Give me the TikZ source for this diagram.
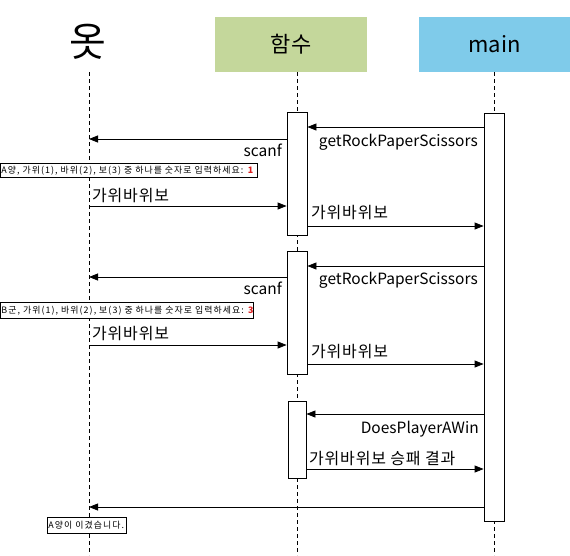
\documentclass[tikz,border=0pt]{standalone}
\usepackage{fontspec}
\setmainfont{Noto Sans CJK KR}
\newfontfamily\notefont[LetterSpace=12,WordSpace=1.8]{Noto Sans CJK KR}
\newfontfamily\korlbl[LetterSpace=5]{Noto Sans CJK KR}
\usetikzlibrary{arrows.meta,calc}
\definecolor{hgreen}{RGB}{196,215,155}
\definecolor{hblue}{RGB}{127,203,234}
\definecolor{nred}{RGB}{220,30,30}
\begin{document}
\begin{tikzpicture}[x=1pt,y=-1pt,
  lifeline/.style={draw=black,line width=0.8pt,dash pattern=on 4pt off 3pt},
  header/.style={draw=none,minimum width=152pt,minimum height=55pt,inner sep=0pt,font=\fontsize{22}{24}\selectfont},
  act/.style={draw=black,fill=white,line width=0.8pt,minimum width=20pt,inner sep=0pt},
  msg/.style={draw=black,line width=0.8pt,-{Triangle[length=9pt,width=7pt]}},
  lbl/.style={inner sep=0pt,font=\fontsize{15.5}{18}\selectfont},
  klbl/.style={inner sep=0pt,font=\korlbl\fontsize{16}{18}\selectfont},
  note/.style={draw=black,fill=white,line width=0.8pt,inner sep=0pt,font=\notefont\fontsize{8.9}{9}\selectfont}
]
\useasboundingbox (0,0) rectangle (570,555);
\fill[white] (0,0) rectangle (570,555);
% headers
\node[inner sep=0pt,font=\fontsize{40}{42}\selectfont] (person) at (88,42) {옷};
\node[header,fill=hgreen] (func) at (291,44.5) {함수};
\node[header,fill=hblue,minimum width=151pt] (main) at (494.5,44.5) {main};
% lifeline coordinates
\coordinate (pL) at (89,72);
\coordinate (fL) at (297,72);
\coordinate (mL) at (494,72);
\draw[lifeline] (pL) -- (89,555);
\draw[lifeline] (fL) -- (297,555);
\draw[lifeline] (mL) -- (494,555);
% activations
\node[act,minimum height=408pt] (m1) at (494,317) {};
\node[act,minimum height=123pt] (a1) at (297,173.5) {};
\node[act,minimum height=123pt] (a2) at (297,312.5) {};
\node[act,minimum height=77pt,minimum width=18pt] (a3) at (297,439.5) {};
% group 1
\draw[msg] (m1.west |- 0,127) -- (a1.east |- 0,127);
\node[lbl,anchor=base east] (l1) at (478,146) {getRockPaperScissors};
\draw[msg] (a1.west |- 0,139) -- (pL |- 0,139);
\node[lbl,anchor=base east] (l2) at (282,156) {scanf};
\node[note,anchor=north west,minimum height=14pt,text width=257pt,align=left] (n1) at (0,163) {\mbox{\hspace{1pt}A양, 가위(1), 바위(2), 보(3) 중 하나를 숫자로 입력하세요: \textcolor{nred}{\textbf{1}}}};
\draw[msg] (pL |- 0,206) -- (a1.west |- 0,206);
\node[klbl,anchor=base west] (l3) at (92,201) {가위바위보};
\draw[msg] (a1.east |- 0,226) -- (m1.west |- 0,226);
\node[klbl,anchor=base west] (l4) at (311,218) {가위바위보};
% group 2
\draw[msg] (m1.west |- 0,266) -- (a2.east |- 0,266);
\node[lbl,anchor=base east] (l5) at (478,284) {getRockPaperScissors};
\draw[msg] (a2.west |- 0,277) -- (pL |- 0,277);
\node[lbl,anchor=base east] (l6) at (282,294) {scanf};
\node[note,anchor=north west,minimum height=16pt,text width=253pt,align=left] (n2) at (0,302) {\mbox{\hspace{1pt}B군, 가위(1), 바위(2), 보(3) 중 하나를 숫자로 입력하세요: \textcolor{nred}{\textbf{3}}}};
\draw[msg] (pL |- 0,345) -- (a2.west |- 0,345);
\node[klbl,anchor=base west] (l7) at (92,339) {가위바위보};
\draw[msg] (a2.east |- 0,364) -- (m1.west |- 0,364);
\node[klbl,anchor=base west] (l8) at (311,357) {가위바위보};
% group 3
\draw[msg] (m1.west |- 0,414) -- (a3.east |- 0,414);
\node[lbl,anchor=base east] (l9) at (479,433) {DoesPlayerAWin};
\draw[msg] (a3.east |- 0,469) -- (m1.west |- 0,469);
\node[klbl,anchor=base west] (l10) at (309,464) {가위바위보 승패 결과};
% return
\draw[msg] (m1.west |- 0,507) -- (pL |- 0,507);
\node[note,anchor=north west,minimum height=16pt,text width=79pt,align=left] (n3) at (47,517) {\mbox{\hspace{1pt}A양이 이겼습니다.}};
\end{tikzpicture}
\end{document}
